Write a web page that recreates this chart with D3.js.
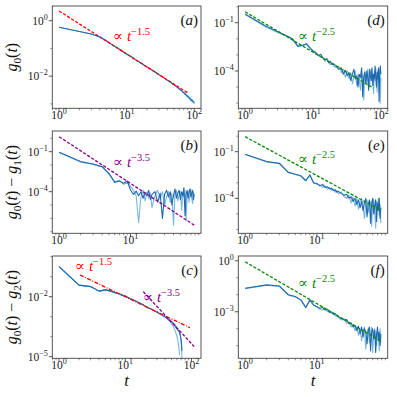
<!DOCTYPE html>
<html><head><meta charset="utf-8">
<script src="https://cdn.jsdelivr.net/npm/d3@7"></script>
<style>body{margin:0;background:#fff}svg{display:block}</style>
</head><body>
<svg id="c" width="397" height="397"></svg>
<script>
// ---------------- data ----------------
const T100=[1,2,3,4,5,6,7,8,9,10,11,12,13,14,15,16,17,18,19,20,22,24,26,28,30,32,34,36,38,40,42,44,46,48,50,52,54,56,58,60,62,64,66,68,70,72,74,76,78,80,82,84,86,88,90,92,94,96,98,100];
const T78=[1,2,3,4,5,6,7,8,9,10,11,12,13,14,15,16,17,18,19,20,22,24,26,28,30,32,34,36,38,40,42,44,46,48,50,52,54,56,58,60,62,64,66,68,70,72,74,76,78];
const T72=[1,2,3,4,5,6,7,8,9,10,11,12,13,14,15,16,17,18,19,20,22,24,26,28,30,32,34,36,38,40,42,44,46,48,50,52,54,56,58,60,62,64,66,68,70,72];

// (a) g0(t)
const aDark=[0.58,0.41,0.33,0.26,0.19,0.14,0.11,0.089,0.074,0.063,0.054,0.048,0.042,0.037,0.034,0.030,0.028,0.025,0.023,0.0215,0.0186,0.0162,0.0144,0.0128,0.0112,0.0102,0.0093,0.0085,0.0078,0.0071,0.0066,0.0062,0.0056,0.0052,0.0049,0.0046,0.0043,0.0040,0.0037,0.0035,0.0032,0.0031,0.0029,0.0027,0.0025,0.0024,0.0022,0.0021,0.0020,0.00186,0.00178,0.00166,0.00158,0.00148,0.00141,0.00135,0.00129,0.00123,0.00117,0.00112];
const aLight=[0.58,0.41,0.33,0.26,0.19,0.14,0.11,0.089,0.074,0.063,0.054,0.048,0.042,0.037,0.034,0.030,0.028,0.025,0.023,0.0215,0.0186,0.0162,0.0144,0.0128,0.0112,0.0102,0.0093,0.0085,0.0078,0.0071,0.0068,0.0060,0.0058,0.0050,0.0051,0.0044,0.0045,0.0038,0.0039,0.0033,0.0034,0.0029,0.0030,0.0025,0.0027,0.0022,0.0024,0.0019,0.0021,0.0017,0.0019,0.0015,0.0017,0.0013,0.0015,0.0012,0.0014,0.0011,0.00125,0.00098];
const aFitT=[1,82], aFitV=[2.24,0.0024];

// (b) g0(t)-g1(t)
const bDark=[0.089,0.018,0.012,0.0076,0.0024,5.0e-4,6.3e-4,4.3e-4,6.3e-4,1.35e-4,6.3e-5,1.1e-4,5.0e-5,1.0e-4,3.2e-5,7.9e-5,5.0e-5,1.26e-4,2.5e-5,6.3e-5,1.0e-4,1.6e-5,7.9e-5,1.0e-6,6.3e-5,1.26e-4,4.0e-5,1.0e-4,1.0e-5,5.0e-5,1.6e-4,3.2e-5,7.9e-5,1.26e-4,2.5e-5,1.0e-4,5.0e-5,2.0e-4,1.6e-6,6.3e-5,1.26e-4,3.2e-5,1.0e-4,1.6e-4,4.0e-5,7.9e-5,1.26e-4,2.5e-5,6.3e-5];
const bLight=[0.085,0.017,0.011,0.0071,0.0020,5.6e-4,7.1e-4,3.5e-4,5.0e-4,2.5e-4,1.26e-4,5.0e-5,5.0e-7,4.0e-5,1.26e-4,2.0e-5,1.0e-4,3.2e-5,7.9e-5,6.3e-6,5.0e-5,1.26e-4,2.5e-5,1.0e-4,1.0e-5,4.0e-5,1.0e-4,1.6e-5,7.9e-5,3.2e-7,6.3e-5,1.26e-4,2.0e-5,6.3e-5,1.0e-4,4.0e-6,7.9e-5,4.0e-5,1.26e-4,6.3e-7,5.0e-5,1.0e-4,1.6e-5,7.9e-5,1.6e-4,3.2e-5,1.26e-5,1.0e-4,5.0e-5];
const bFitT=[1,78], bFitV=[1.33,3.1e-7];

// (c) g0(t)-g2(t)
const cDark=[0.32,0.038,0.032,0.019,0.022,0.019,0.016,0.014,0.012,0.0107,0.0091,0.0079,0.0071,0.0063,0.0056,0.0050,0.0046,0.0042,0.0038,0.0033,0.0028,0.0025,0.0022,0.0019,0.0017,0.0015,0.00135,0.0012,0.00107,0.00095,8.5e-4,7.6e-4,6.8e-4,6.1e-4,5.5e-4,4.9e-4,4.3e-4,3.6e-4,3.0e-4,2.5e-4,2.2e-4,2.0e-4,1.6e-4,1.1e-4,6.3e-5,2.0e-5];
const cLight1=[0.32,0.038,0.032,0.019,0.022,0.019,0.016,0.014,0.012,0.0107,0.0091,0.0079,0.0071,0.0063,0.0056,0.0050,0.0046,0.0042,0.0038,0.0033,0.0028,0.0025,0.0022,0.0019,0.0017,0.0015,0.00135,0.0012,0.00107,0.00095,8.5e-4,7.2e-4,6.2e-4,5.3e-4,4.4e-4,3.6e-4,2.9e-4,2.2e-4,1.6e-4,1.1e-4,7.0e-5,3.5e-5,1.2e-5,null,null,null];
const cLight2=[0.32,0.038,0.032,0.019,0.022,0.019,0.016,0.014,0.012,0.0107,0.0091,0.0079,0.0071,0.0063,0.0056,0.0050,0.0046,0.0042,0.0038,0.0033,0.0028,0.0025,0.0022,0.0019,0.0017,0.0015,0.00135,0.0012,0.00107,0.00095,9.3e-4,8.5e-4,7.6e-4,6.8e-4,6.0e-4,5.4e-4,4.8e-4,4.2e-4,3.5e-4,3.0e-4,2.5e-4,2.0e-4,1.8e-4,1.26e-4,5.0e-5,7.9e-6];
const cFit1T=[2.07,95], cFit1V=[0.122,2.8e-4];
const cFit2T=[18.7,110], cFit2V=[0.0178,3.2e-5];

// (d)
const dDark=[0.35,0.063,0.028,0.016,0.010,0.0035,0.0040,0.0050,0.0028,0.0018,0.0014,8.9e-4,1.1e-3,6.3e-4,5.0e-4,5.6e-4,3.2e-4,4.0e-4,2.5e-4,2.8e-4,2.0e-4,1.26e-4,1.6e-4,6.3e-5,1.1e-4,5.0e-5,7.9e-5,2.5e-5,6.3e-5,1.26e-4,3.2e-5,5.0e-5,1.0e-5,6.3e-5,4.0e-5,1.6e-4,2.5e-6,5.0e-5,7.9e-5,1.6e-5,1.0e-4,4.0e-5,6.3e-6,1.26e-4,5.0e-5,2.5e-5,1.6e-4,1.26e-5,6.3e-5,3.2e-5,2.0e-4,4.0e-5,1.0e-5,7.9e-5,3.2e-5,1.6e-4,1.26e-6,5.0e-5,2.0e-4,6.3e-5];
const dLight=[0.32,0.056,0.025,0.015,0.0089,0.0032,0.0038,0.0045,0.0025,0.0016,1.26e-3,1.0e-3,7.9e-4,7.1e-4,4.0e-4,6.3e-4,3.5e-4,2.5e-4,3.2e-4,2.0e-4,1.6e-4,2.0e-4,7.9e-5,1.26e-4,4.0e-5,1.0e-4,3.2e-5,7.9e-5,1.6e-5,5.0e-5,1.0e-4,1.26e-5,6.3e-5,2.5e-5,6.3e-6,7.9e-5,4.0e-5,1.6e-6,1.0e-4,5.0e-5,2.0e-5,1.26e-4,3.2e-5,1.0e-5,7.9e-5,1.26e-4,2.5e-5,6.3e-5,4.0e-6,1.0e-4,2.5e-5,1.6e-4,5.0e-5,5.0e-6,1.0e-4,2.0e-5,6.3e-5,1.26e-4,1.0e-6,4.0e-5];
const dFitT=[1,78], dFitV=[0.48,8.5e-6];

// (e)
const eDark=[0.068,0.023,0.018,0.0047,0.0035,0.0028,0.0014,0.0032,0.0010,8.9e-4,6.3e-4,7.9e-4,5.0e-4,5.6e-4,4.0e-4,4.5e-4,3.2e-4,3.5e-4,2.5e-4,2.8e-4,2.0e-4,1.6e-4,1.8e-4,1.0e-4,1.26e-4,6.3e-5,1.0e-4,4.0e-5,7.9e-5,2.5e-5,6.3e-5,1.6e-5,5.0e-5,1.0e-4,6.3e-6,4.0e-5,7.9e-5,2.5e-6,5.0e-5,1.0e-4,1.0e-5,3.2e-5,7.9e-5,3.2e-6,5.0e-5,1.6e-5,1.0e-4,5.0e-6,2.5e-5];
const eLight=[0.066,0.022,0.017,0.0045,0.0034,0.0026,0.0013,0.0030,0.00095,8.5e-4,7.1e-4,5.0e-4,6.3e-4,4.0e-4,5.0e-4,3.2e-4,4.0e-4,2.5e-4,3.2e-4,2.0e-4,2.5e-4,1.26e-4,1.0e-4,1.6e-4,5.0e-5,1.26e-4,3.2e-5,1.0e-4,2.0e-5,6.3e-5,1.0e-4,4.0e-5,5.0e-6,5.0e-5,7.9e-5,1.26e-5,3.2e-5,6.3e-5,1.6e-6,4.0e-5,7.9e-5,1.26e-5,1.26e-6,6.3e-5,2.5e-5,1.0e-4,7.9e-6,4.0e-5,2.5e-6];
const eFitT=[1,78], eFitV=[0.92,1.7e-5];

// (f)
const fDark=[0.024,0.038,0.033,0.010,0.0079,0.0050,0.0018,0.0050,0.0025,0.0020,0.0016,0.0018,0.00126,0.0014,8.9e-4,1.0e-3,7.1e-4,7.9e-4,5.6e-4,5.0e-4,4.0e-4,3.2e-4,3.5e-4,2.0e-4,2.2e-4,1.26e-4,1.6e-4,7.9e-5,1.4e-4,5.0e-5,1.26e-4,3.2e-5,1.0e-4,6.3e-5,1.26e-5,7.9e-5,1.26e-4,5.0e-6,6.3e-5,1.0e-4,2.5e-5,7.9e-5,4.0e-6,5.0e-5,1.26e-4,2.0e-5,6.3e-5,1.0e-5,5.0e-5];
const fLight=[0.023,0.036,0.031,0.0095,0.0075,0.0047,0.0017,0.0047,0.0024,0.0019,0.0014,0.00126,0.0016,0.0010,0.00112,7.9e-4,8.9e-4,5.6e-4,6.3e-4,4.5e-4,3.2e-4,4.0e-4,2.0e-4,2.5e-4,1.26e-4,1.8e-4,7.9e-5,1.26e-4,4.0e-5,1.0e-4,2.0e-5,7.9e-5,1.26e-4,6.3e-6,6.3e-5,1.0e-4,1.6e-5,5.0e-5,1.26e-4,4.0e-6,6.3e-5,1.0e-4,2.5e-5,1.0e-5,7.9e-5,4.0e-5,5.0e-6,1.0e-4,1.6e-5];
const fFitT=[1,78], fFitV=[0.87,1.9e-5];

// tick exponents
const xTickExp=[0,1,2];
const yTickExp={a:[0,-2],b:[-1,-4],c:[-2,-5],d:[-1,-4],e:[-1,-4],f:[0,-3]};
const panelTags=["a","b","c","d","e","f"];

// ---------------- layout ----------------
const DARK="#1f6aae", LIGHT="#6aaedb";
const RED="#ff0000", GREEN="#0a8a0a", PURPLE="#8b008b";
const FONT="Liberation Serif, DejaVu Serif, serif";
const MINUS="\u2212";
const svg=d3.select("#c");
const defs=svg.append("defs");

const colL=[52.3,201], colR=[238.3,387.7];
const rows=[[6,108.3],[131,233.3],[256,358.3]];

const panels=[
 {k:"a",col:colL,row:rows[0],xd:[-0.1,2.1],yd:[-3.16,0.53],
  series:[[T100,aLight,LIGHT],[T100,aDark,DARK]],
  fits:[[aFitT,aFitV,RED,"3.2,1.6"]],
  notes:[[113,41,RED,"1.5"]],
  ylab:[{s:"g",i:1},{s:"0",sub:1},{s:"("},{s:"t",i:1},{s:")"}]},
 {k:"b",col:colL,row:rows[1],xd:[-0.095,1.987],yd:[-7.12,0.55],
  series:[[T78,bLight,LIGHT],[T78,bDark,DARK]],
  fits:[[bFitT,bFitV,PURPLE,"3.2,1.6"]],
  notes:[[113,167,PURPLE,"3.5"]],
  ylab:[{s:"g",i:1},{s:"0",sub:1},{s:"("},{s:"t",i:1},{s:") "+MINUS+" "},{s:"g",i:1},{s:"1",sub:1},{s:"("},{s:"t",i:1},{s:")"}]},
 {k:"c",col:colL,row:rows[2],xd:[-0.102,2.144],yd:[-5.08,0.035],
  series:[[T72,cLight1,LIGHT],[T72,cLight2,LIGHT],[T72,cDark,DARK]],
  fits:[[cFit1T,cFit1V,RED,"4,1.5,1,1.5"],[cFit2T,cFit2V,PURPLE,"3.2,1.6"]],
  notes:[[75,271,RED,"1.5"],[143,302,PURPLE,"3.5"]],
  ylab:[{s:"g",i:1},{s:"0",sub:1},{s:"("},{s:"t",i:1},{s:") "+MINUS+" "},{s:"g",i:1},{s:"2",sub:1},{s:"("},{s:"t",i:1},{s:")"}],
  xlab:true},
 {k:"d",col:colR,row:rows[0],xd:[-0.1,2.1],yd:[-6.32,0.04],
  series:[[T100,dLight,LIGHT],[T100,dDark,DARK]],
  fits:[[dFitT,dFitV,GREEN,"3.2,1.6"]],
  notes:[[298,41,GREEN,"2.5"]]},
 {k:"e",col:colR,row:rows[1],xd:[-0.095,1.987],yd:[-6.25,0.33],
  series:[[T78,eLight,LIGHT],[T78,eDark,DARK]],
  fits:[[eFitT,eFitV,GREEN,"3.2,1.6"]],
  notes:[[298,164,GREEN,"2.5"]]},
 {k:"f",col:colR,row:rows[2],xd:[-0.095,1.987],yd:[-5.74,0.28],
  series:[[T78,fLight,LIGHT],[T78,fDark,DARK]],
  fits:[[fFitT,fFitV,GREEN,"3.2,1.6"]],
  notes:[[298,288,GREEN,"2.5"]],
  xlab:true}
];

function mathText(sel,parts,size){
  let cur=0;
  parts.forEach(p=>{
    let target=0,fs=size;
    if(p.sup){target=-size*0.42;fs=size*0.7;}
    if(p.sub){target=size*0.25;fs=size*0.7;}
    const ts=sel.append("tspan").text(p.s).attr("font-size",fs);
    if(target-cur!==0) ts.attr("dy",target-cur);
    if(p.i) ts.attr("font-style","italic");
    cur=target;
  });
}

panels.forEach((P,pi)=>{
  const [x0,x1]=P.col,[y0,y1]=P.row;
  const x=d3.scaleLog().domain([10**P.xd[0],10**P.xd[1]]).range([x0,x1]);
  const y=d3.scaleLog().domain([10**P.yd[0],10**P.yd[1]]).range([y1,y0]);
  const g=svg.append("g");
  const cid="clip"+P.k;
  defs.append("clipPath").attr("id",cid).append("rect").attr("x",x0).attr("y",y0).attr("width",x1-x0).attr("height",y1-y0);
  const plot=g.append("g").attr("clip-path",`url(#${cid})`);
  const line=d3.line().defined(d=>d[1]!=null).x(d=>x(d[0])).y(d=>y(d[1]));
  P.series.forEach(([T,V,c])=>{
    plot.append("path").datum(T.map((t,i)=>[t,V[i]])).attr("d",line)
      .attr("fill","none").attr("stroke",c).attr("stroke-width",1.1).attr("stroke-linejoin","round")
      .attr("opacity",c===LIGHT?0.9:1);
  });
  P.fits.forEach(([T,V,c,dash])=>{
    plot.append("path").datum(T.map((t,i)=>[t,V[i]])).attr("d",line)
      .attr("fill","none").attr("stroke",c).attr("stroke-width",1.3).attr("stroke-dasharray",dash);
  });
  // frame
  g.append("rect").attr("x",x0).attr("y",y0).attr("width",x1-x0).attr("height",y1-y0)
    .attr("fill","none").attr("stroke","#444").attr("stroke-width",0.9);
  // x ticks
  const xt=g.append("g");
  for(let e=-1;e<=2;e++){
    for(let m=1;m<10;m++){
      const v=m*10**e; const px=x(v);
      if(px<x0-0.01||px>x1+0.01) continue;
      const len=m===1?3.5:2;
      xt.append("line").attr("x1",px).attr("x2",px).attr("y1",y1).attr("y2",y1+len).attr("stroke","#444").attr("stroke-width",m===1?0.9:0.6);
    }
  }
  xTickExp.forEach(e=>{
    const px=x(10**e); if(px<x0-0.01||px>x1+0.01) return;
    const t=xt.append("text").attr("x",px).attr("y",y1+11).attr("text-anchor","middle")
      .attr("font-family",FONT).attr("fill","#222");
    mathText(t,[{s:"10"},{s:String(e),sup:1}],11.5);
  });
  // y ticks
  const yt=g.append("g");
  const majors=yTickExp[P.k];
  for(let e=Math.ceil(P.yd[0]);e<=Math.floor(P.yd[1]);e++){
    const py=y(10**e); const maj=majors.includes(e);
    yt.append("line").attr("x1",x0).attr("x2",x0-(maj?3.5:2)).attr("y1",py).attr("y2",py).attr("stroke","#444").attr("stroke-width",maj?0.9:0.6);
  }
  majors.forEach(e=>{
    const py=y(10**e);
    const t=yt.append("text").attr("x",x0-4.5).attr("y",py+4).attr("text-anchor","end")
      .attr("font-family",FONT).attr("fill","#222");
    mathText(t,[{s:"10"},{s:(e<0?MINUS+(-e):String(e)),sup:1}],11.5);
  });
  // panel tag
  const tag=g.append("text").attr("x",x1-3).attr("y",y0+19).attr("text-anchor","end")
    .attr("font-family",FONT).attr("font-size",15).attr("fill","#111");
  tag.append("tspan").text("(");
  tag.append("tspan").text(panelTags[pi]).attr("font-style","italic");
  tag.append("tspan").text(")");
  // fit notes
  P.notes.forEach(([nx,ny,c,ex])=>{
    const t=g.append("text").attr("x",nx).attr("y",ny).attr("font-family",FONT).attr("fill",c);
    mathText(t,[{s:"\u221D "},{s:"t",i:1},{s:MINUS+ex,sup:1}],15);
  });
  // y label
  if(P.ylab){
    const cy=(y0+y1)/2;
    const t=g.append("text").attr("transform",`translate(${x0-35},${cy}) rotate(-90)`)
      .attr("text-anchor","middle").attr("font-family",FONT).attr("fill","#111");
    mathText(t,P.ylab,16);
  }
  if(P.xlab){
    g.append("text").attr("x",(x0+x1)/2).attr("y",y1+28).attr("text-anchor","middle")
      .attr("font-family",FONT).attr("font-size",17).attr("font-style","italic").attr("fill","#111").text("t");
  }
});
</script>
</body></html>
